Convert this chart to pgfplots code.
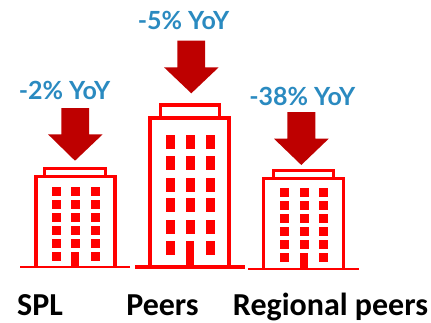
\documentclass[border=0pt]{standalone}
\usepackage{fontspec}
\usepackage{pgfplots}
\pgfplotsset{compat=1.18}
\setmainfont{Carlito}
\newfontfamily\yoyfont{Lato}
\definecolor{bldg}{HTML}{FF0000}
\definecolor{arrowred}{HTML}{BE0000}
\definecolor{yoyblue}{HTML}{2A8AC0}

% Helpers for the parts of a building, all in axis units
\newcommand{\groundline}[4]{\addplot[bldg,line width=#4pt] coordinates {(#1,#3) (#2,#3)};}
\newcommand{\frameopen}[5]{\addplot[bldg,line width=#5pt,line join=miter] coordinates {(#1,#4) (#1,#3) (#2,#3) (#2,#4)};}
\newcommand{\solidbox}[4]{\addplot[fill=bldg,draw=none] coordinates {(#1,#3) (#2,#3) (#2,#4) (#1,#4)} --cycle;}
% Arrow: shaft x0, x1, top y, shoulder y, head x0, x1, tip x, tip y
\newcommand{\fallarrow}[8]{\addplot[fill=arrowred,draw=none] coordinates {(#1,#3) (#2,#3) (#2,#4) (#6,#4) (#7,#8) (#5,#4) (#1,#4)} --cycle;}
\newcommand{\yoy}[3]{\node[text=yoyblue,font=\yoyfont\bfseries\fontsize{25}{27}\selectfont,inner sep=0pt] at (axis cs:#1,#2) {#3};}
\newcommand{\name}[3]{\node[text=black,font=\bfseries\fontsize{32}{34}\selectfont,inner sep=0pt,anchor=base] at (axis cs:#1,#2) {#3};}

\begin{document}
\begin{tikzpicture}
\begin{axis}[
  hide axis,
  scale only axis,
  width=431pt,height=322pt,
  xmin=0,xmax=431,ymin=0,ymax=322,
  y dir=reverse,
  clip=false,
]
% SPL
\groundline{20}{130}{267.3}{2}
\frameopen{35.8}{115}{176.6}{267}{3.4}
\frameopen{44.7}{105.7}{168.5}{175}{2.6}
\solidbox{71.3}{79.3}{252}{267}
\addplot[only marks,mark=square*,mark size=4pt,color=bldg] table {
56 191
75 191
95 191
56 204
75 204
95 204
56 217
75 217
95 217
56 230
75 230
95 230
56 243
75 243
95 243
56 256
95 256
};
\fallarrow{61.3}{89}{108}{134.3}{48}{102.7}{75}{160.7}
\yoy{64.5}{90}{-2\% YoY}
\name{40}{315.5}{SPL}

% Peers
\groundline{135}{245}{266.7}{4}
\frameopen{150.3}{229}{118}{267}{4}
\frameopen{160.2}{219.5}{105}{116}{3.2}
\solidbox{186}{194}{241}{267}
\addplot[only marks,mark=square*,mark size=4pt,mark options={yscale=1.6},color=bldg] table {
170 141.3
190 141.3
210 141.3
170 162.3
190 162.3
210 162.3
170 184.3
190 184.3
210 184.3
170 205
190 205
210 205
170 226.3
190 226.3
210 226.3
170 247.3
210 247.3
};
\fallarrow{177.3}{205}{40.7}{67.3}{164}{218.7}{191.3}{93.3}
\yoy{183.5}{20}{-5\% YoY}
\name{162.5}{315.5}{Peers}

% Regional peers
\groundline{248.3}{358.7}{268.7}{2}
\frameopen{263.7}{343.3}{178.7}{268}{3.4}
\frameopen{273.7}{333.7}{170.3}{177}{2.6}
\solidbox{299.7}{307.7}{253.3}{268.7}
\addplot[only marks,mark=square*,mark size=4pt,color=bldg] table {
284 192
304 192
323 192
284 205
304 205
323 205
284 218
304 218
323 218
284 231
304 231
323 231
284 244
304 244
323 244
284 257
323 257
};
\fallarrow{287.3}{315.3}{112}{138.7}{274}{328.7}{301.3}{165}
\yoy{302.3}{96.7}{-38\% YoY}
\name{330.5}{315.5}{Regional peers}
\end{axis}
% The page is exactly the plotting area
\pgfresetboundingbox
\path[use as bounding box] (0,0) rectangle (431pt,322pt);
\end{tikzpicture}
\end{document}
